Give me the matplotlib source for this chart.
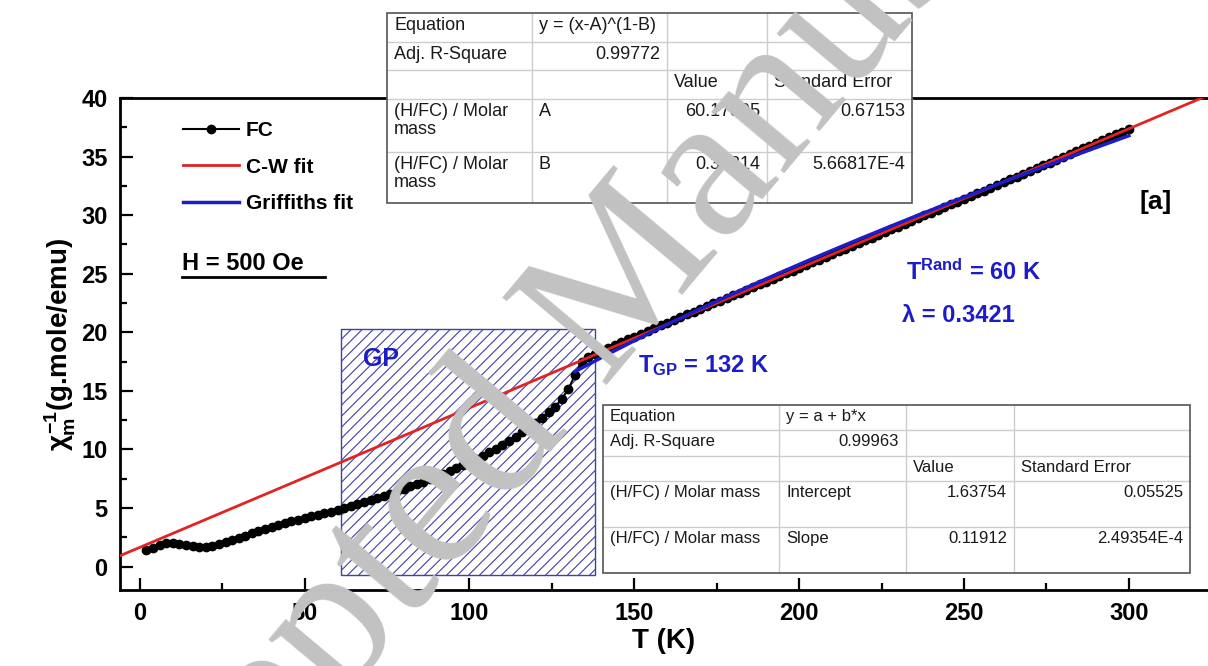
import numpy as np
import matplotlib
matplotlib.use('Agg')
import matplotlib.pyplot as plt
from matplotlib.patches import Rectangle
from matplotlib.lines import Line2D

# inverse susceptibility, field-cooled, H = 500 Oe
fc_temp = np.arange(2, 302, 2)
fc_chi_inv = [
    1.40, 1.62, 1.85, 2.00, 2.03, 1.96, 1.85, 1.74, 1.67, 1.67,
    1.78, 1.93, 2.10, 2.28, 2.46, 2.65, 2.84, 3.02, 3.20, 3.37,
    3.54, 3.70, 3.85, 4.00, 4.14, 4.28, 4.42, 4.55, 4.68, 4.82,
    4.97, 5.13, 5.30, 5.47, 5.65, 5.84, 6.03, 6.23, 6.43, 6.63,
    6.84, 7.05, 7.26, 7.48, 7.70, 7.93, 8.17, 8.41, 8.66, 8.92,
    9.19, 9.47, 9.76, 10.06, 10.38, 10.72, 11.08, 11.46, 11.86, 12.28,
    12.72, 13.17, 13.66, 14.30, 15.15, 16.35, 17.45,
    17.90, 18.15, 18.42, 18.67, 18.92, 19.16, 19.40, 19.64, 19.88, 20.12,
    20.35, 20.58, 20.82, 21.05, 21.29, 21.52, 21.76, 21.99, 22.22, 22.46,
    22.69, 22.93, 23.16, 23.39, 23.62, 23.86, 24.09, 24.33, 24.56, 24.80,
    25.03, 25.27, 25.50, 25.74, 25.97, 26.21, 26.44, 26.68, 26.91, 27.15,
    27.38, 27.62, 27.85, 28.09, 28.32, 28.56, 28.79, 29.03, 29.26, 29.50,
    29.73, 29.97, 30.20, 30.44, 30.68, 30.91, 31.15, 31.39, 31.62, 31.86,
    32.10, 32.34, 32.58, 32.81, 33.05, 33.29, 33.53, 33.77, 34.01, 34.25,
    34.49, 34.73, 34.97, 35.21, 35.45, 35.69, 35.93, 36.17, 36.41, 36.65,
    36.89, 37.14, 37.38,
]

# Curie-Weiss linear fit and Griffiths power-law fit parameters
cw_intercept, cw_intercept_err = 1.63754, 0.05525
cw_slope, cw_slope_err = 0.11912, 2.49354e-4
cw_r2 = 0.99963
gf_A, gf_A_err = 60.17895, 0.67153
gf_B, gf_B_err = 0.34214, 5.66817e-4
gf_r2 = 0.99772
gf_tmin, gf_tmax = 132, 300

# Griffiths phase window
gp_tmin, gp_tmax = 61, 138
gp_ymin, gp_ymax = -0.7, 20.3

x_ticks = [0, 50, 100, 150, 200, 250, 300]
y_ticks = [0, 5, 10, 15, 20, 25, 30, 35, 40]

gf_table = [
    ["Equation", "y = (x-A)^(1-B)", "", ""],
    ["Adj. R-Square", f"{gf_r2:.5f}", "", ""],
    ["", "", "Value", "Standard Error"],
    ["(H/FC) / Molar\nmass", "A", f"{gf_A:.5f}", f"{gf_A_err:.5f}"],
    ["(H/FC) / Molar\nmass", "B", f"{gf_B:.5f}", "5.66817E-4"],
]
cw_table = [
    ["Equation", "y = a + b*x", "", ""],
    ["Adj. R-Square", f"{cw_r2:.5f}", "", ""],
    ["", "", "Value", "Standard Error"],
    ["(H/FC) / Molar mass", "Intercept", f"{cw_intercept:.5f}", f"{cw_intercept_err:.5f}"],
    ["(H/FC) / Molar mass", "Slope", f"{cw_slope:.5f}", "2.49354E-4"],
]

W, H = 1208, 666
BLUE = '#1c1cc8'
RED = '#e02424'
HATCH = '#4040a8'
XLIM = (-6, 324)
YLIM = (-2, 40)
AX_PX = (120, 98, 1208, 590)  # left, top, right, bottom in pixels

plt.rcParams['font.family'] = ['Liberation Sans', 'DejaVu Sans']
plt.rcParams['mathtext.fontset'] = 'custom'
plt.rcParams['mathtext.rm'] = 'Liberation Sans:bold'
plt.rcParams['mathtext.it'] = 'Liberation Sans:bold'
plt.rcParams['mathtext.bf'] = 'Liberation Sans:bold'


def fx(px):
    return px / W


def fy(py):
    return 1 - py / H


fig = plt.figure(figsize=(W / 100, H / 100), dpi=100)
left, top, right, bottom = AX_PX
ax = fig.add_axes([fx(left), fy(bottom), fx(right) - fx(left), fy(top) - fy(bottom)])
ax.set_xlim(*XLIM)
ax.set_ylim(*YLIM)

# shaded GP region, 45 degree hatch drawn by hand for a wider spacing
gp_box = Rectangle((gp_tmin, gp_ymin), gp_tmax - gp_tmin, gp_ymax - gp_ymin,
                   facecolor='none', edgecolor=HATCH, lw=1.0, zorder=1)
ax.add_patch(gp_box)
kx = (right - left) / (XLIM[1] - XLIM[0])   # pixels per kelvin
ky = (bottom - top) / (YLIM[1] - YLIM[0])   # pixels per y unit
run = (gp_ymax - gp_ymin) * ky / kx
for xs in np.arange(gp_tmin - run, gp_tmax, 11 / kx):
    hl, = ax.plot([xs, xs + run], [gp_ymin, gp_ymax], color=HATCH, lw=0.8,
                  zorder=1)
    hl.set_clip_path(gp_box)

fc_line, = ax.plot(fc_temp, fc_chi_inv, '-o', color='black', lw=1.5,
                   ms=6, zorder=3)
t_cw = np.array(XLIM)
cw_line, = ax.plot(t_cw, cw_intercept + cw_slope * t_cw, color=RED, lw=2,
                   zorder=4)
t_gf = np.linspace(gf_tmin, gf_tmax, 200)
gf_line, = ax.plot(t_gf, (t_gf - gf_A) ** (1 - gf_B), color=BLUE, lw=2.5,
                   zorder=5)

ax.set_xticks(x_ticks)
ax.set_yticks(y_ticks)
ax.set_xticks(np.arange(25, 325, 50), minor=True)
ax.set_yticks(np.arange(2.5, 40, 5), minor=True)
ax.tick_params(which='both', direction='in', width=1.6, labelsize=17,
               top=False, right=False)
ax.tick_params(which='major', length=9, pad=9)
ax.tick_params(which='minor', length=5)
for lab in ax.get_xticklabels() + ax.get_yticklabels():
    lab.set_fontweight('bold')
for side in ['left', 'bottom', 'top']:
    ax.spines[side].set_linewidth(2)
ax.spines['right'].set_visible(False)

ax.set_xlabel('T (K)', fontsize=20, fontweight='bold', labelpad=2)
ax.set_ylabel(r'$\chi_{m}^{-1}$(g.mole/emu)', fontsize=20, fontweight='bold',
              labelpad=2)

ax.legend([fc_line, cw_line, gf_line], ['FC', 'C-W fit', 'Griffiths fit'],
          loc='upper left', bbox_to_anchor=(fx(183), fy(121)),
          bbox_transform=fig.transFigure, frameon=False, numpoints=1,
          handlelength=2.7, handletextpad=0.3, labelspacing=0.85,
          borderpad=0, borderaxespad=0,
          prop={'size': 15, 'weight': 'bold'})

fig.text(fx(182), fy(263), 'H = 500 Oe', fontsize=17, fontweight='bold',
         va='center')
fig.add_artist(Line2D([fx(182), fx(325)], [fy(277), fy(277)], color='black',
                      lw=2))

fig.text(fx(1156), fy(202), '[a]', fontsize=19, fontweight='bold',
         ha='center', va='center')
fig.text(fx(906), fy(272), r'T$^{\mathregular{Rand}}$ = 60 K', fontsize=17,
         fontweight='bold', color=BLUE, va='center')
fig.text(fx(902), fy(316), 'λ = 0.3421', fontsize=17, fontweight='bold',
         color=BLUE, va='center')
fig.text(fx(638), fy(366), r'T$_{\mathregular{GP}}$ = 132 K', fontsize=17,
         fontweight='bold', color=BLUE, va='center')
fig.text(fx(363), fy(359), 'GP', fontsize=18, fontweight='bold', color=BLUE,
         va='center')


def is_number(s):
    try:
        float(s)
        return True
    except ValueError:
        return False


def draw_table(rows, col_px, row_px, size):
    x0, x1 = col_px[0], col_px[-1]
    y0, y1 = row_px[0], row_px[-1]
    box = (fx(x0), fy(y1))
    bw, bh = fx(x1) - fx(x0), fy(y0) - fy(y1)
    fig.add_artist(Rectangle(box, bw, bh, transform=fig.transFigure,
                             facecolor='white', edgecolor='none', zorder=20))
    for c in col_px[1:-1]:
        fig.add_artist(Line2D([fx(c), fx(c)], [fy(y0), fy(y1)],
                              color='#cdcdcd', lw=1, zorder=21))
    for r in row_px[1:-1]:
        fig.add_artist(Line2D([fx(x0), fx(x1)], [fy(r), fy(r)],
                              color='#cdcdcd', lw=1, zorder=21))
    fig.add_artist(Rectangle(box, bw, bh, transform=fig.transFigure,
                             facecolor='none', edgecolor='#555555', lw=1.2,
                             zorder=22))
    for i, row in enumerate(rows):
        for j, txt in enumerate(row):
            if not txt:
                continue
            if is_number(txt):
                x, ha = col_px[j + 1] - 7, 'right'
            else:
                x, ha = col_px[j] + 7, 'left'
            fig.text(fx(x), fy(row_px[i] + 4), txt, fontsize=size, ha=ha,
                     va='top', color='#1a1a1a', linespacing=1.1, zorder=23)


draw_table(gf_table, [387, 532, 667, 767, 912], [13, 42, 70, 99, 152, 203], 13)
draw_table(cw_table, [603, 779, 906, 1014, 1190], [405, 430, 456, 481, 527, 573], 12)

# journal watermark
fig.text(fx(600), fy(315), 'Accepted Manuscript', fontsize=150,
         family='Liberation Serif', color='#c2c2c2', rotation=50,
         rotation_mode='anchor', ha='center', va='center', zorder=50)

fig.savefig('out.png', dpi=100)
